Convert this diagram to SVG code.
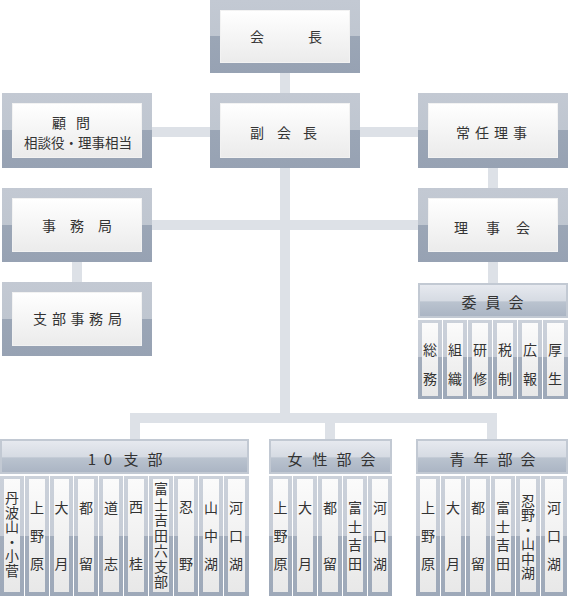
<svg xmlns="http://www.w3.org/2000/svg" width="568" height="596" viewBox="0 0 568 596">
<defs>
<linearGradient id="split" x1="0" y1="0" x2="0" y2="1">
<stop offset="0" stop-color="#c3c9d3"/><stop offset="0.5" stop-color="#bfc6d0"/><stop offset="0.5" stop-color="#9ba6b6"/><stop offset="1" stop-color="#97a2b3"/>
</linearGradient>
<linearGradient id="colsplit" x1="0" y1="0" x2="0" y2="1">
<stop offset="0" stop-color="#cbd1da"/><stop offset="0.5" stop-color="#c6ccd6"/><stop offset="0.5" stop-color="#a3adbc"/><stop offset="1" stop-color="#9ea9b9"/>
</linearGradient>
<linearGradient id="colsplit2" x1="0" y1="0" x2="0" y2="1">
<stop offset="0" stop-color="#cbd1da"/><stop offset="0.47" stop-color="#c6ccd6"/><stop offset="0.47" stop-color="#a3adbc"/><stop offset="1" stop-color="#9ea9b9"/>
</linearGradient>
<linearGradient id="panel" x1="0" y1="0" x2="0" y2="1">
<stop offset="0" stop-color="#ffffff"/><stop offset="1" stop-color="#ebebeb"/>
</linearGradient>
<linearGradient id="cpanel" x1="0" y1="0" x2="0" y2="1">
<stop offset="0" stop-color="#fbfbfb"/><stop offset="1" stop-color="#e8e8e8"/>
</linearGradient>
<linearGradient id="hdr" x1="0" y1="0" x2="0" y2="1">
<stop offset="0" stop-color="#e6e9ef"/><stop offset="0.5" stop-color="#d6dbe3"/><stop offset="0.55" stop-color="#bac3cf"/><stop offset="1" stop-color="#abb5c4"/>
</linearGradient>
</defs>
<style>
.box{fill:url(#split)}
.in{fill:url(#panel);stroke:#f2f2f2;stroke-width:1}
.col{fill:url(#colsplit)}
.col2{fill:url(#colsplit2)}
.cin{fill:url(#cpanel)}
.hb{fill:#c2c9d3}
.hi{fill:url(#hdr)}
.con{fill:#dde1e7}
text{font-family:"Noto Sans CJK JP","Noto Sans",sans-serif;fill:#333;text-anchor:middle;dominant-baseline:central}
.t{font-size:14px}
.h{font-size:15px}
.c{font-size:13.5px}
</style>

<g id="connectors">
<rect class="con" x="280" y="73" width="10" height="20"/>
<rect class="con" x="152" y="127" width="58" height="10"/>
<rect class="con" x="360" y="127" width="58" height="10"/>
<rect class="con" x="488" y="168" width="10" height="20"/>
<rect class="con" x="488" y="262" width="10" height="21"/>
<rect class="con" x="280" y="168" width="10" height="255"/>
<rect class="con" x="152" y="220" width="266" height="10"/>
<rect class="con" x="72" y="262" width="10" height="20"/>
<rect class="con" x="130" y="413" width="367" height="10"/>
<rect class="con" x="130" y="413" width="10" height="26"/>
<rect class="con" x="325" y="413" width="10" height="26"/>
<rect class="con" x="487" y="413" width="10" height="26"/>
</g>

<g id="kaicho">
<rect class="box" x="210" y="0" width="150" height="73"/>
<rect class="in" x="220.5" y="10.5" width="129" height="52"/>
<text class="t" x="257 315" y="36">会長</text>
</g>

<g id="fukukaicho">
<rect class="box" x="210" y="93" width="150" height="75"/>
<rect class="in" x="220.5" y="103.5" width="129" height="54"/>
<text class="t" x="257 284 310" y="132">副会長</text>
</g>

<g id="komon">
<rect class="box" x="2" y="93" width="150" height="75"/>
<rect class="in" x="12.5" y="103.5" width="129" height="54"/>
<text class="t" x="59 83" y="122">顧問</text>
<text class="c" x="78" y="142">相談役・理事相当</text>
</g>

<g id="jonin">
<rect class="box" x="418" y="93" width="150" height="75"/>
<rect class="in" x="428.5" y="103.5" width="129" height="54"/>
<text class="t" x="463 482 501 520" y="132">常任理事</text>
</g>

<g id="jimukyoku">
<rect class="box" x="2" y="188" width="150" height="74"/>
<rect class="in" x="12.5" y="198.5" width="129" height="53"/>
<text class="t" x="49 77 105" y="225">事務局</text>
</g>

<g id="rijikai">
<rect class="box" x="418" y="188" width="150" height="74"/>
<rect class="in" x="428.5" y="198.5" width="129" height="53"/>
<text class="t" x="461 493 523" y="227">理事会</text>
</g>

<g id="shibujimukyoku">
<rect class="box" x="2" y="282" width="150" height="74"/>
<rect class="in" x="12.5" y="292.5" width="129" height="53"/>
<text class="t" x="40 59 77.5 96 115" y="318">支部事務局</text>
</g>

<g id="iinkai">
<rect class="hb" x="418" y="283" width="150" height="35"/>
<rect class="hi" x="420" y="285" width="146" height="31"/>
<text class="h" x="469 493 516" y="301">委員会</text>
<rect class="col2" x="418" y="320" width="24" height="79"/><rect class="cin" x="422" y="323" width="16" height="73"/>
<rect class="col2" x="443" y="320" width="24" height="79"/><rect class="cin" x="447" y="323" width="16" height="73"/>
<rect class="col2" x="468" y="320" width="24" height="79"/><rect class="cin" x="472" y="323" width="16" height="73"/>
<rect class="col2" x="493" y="320" width="24" height="79"/><rect class="cin" x="497" y="323" width="16" height="73"/>
<rect class="col2" x="518" y="320" width="24" height="79"/><rect class="cin" x="522" y="323" width="16" height="73"/>
<rect class="col2" x="543" y="320" width="25" height="79"/><rect class="cin" x="547" y="323" width="17" height="73"/>
<text class="t" x="430 430" y="349 378">総務</text>
<text class="t" x="455 455" y="349 378">組織</text>
<text class="t" x="480 480" y="349 378">研修</text>
<text class="t" x="505 505" y="349 378">税制</text>
<text class="t" x="530 530" y="349 378">広報</text>
<text class="t" x="555 555" y="349 378">厚生</text>
</g>

<g id="shibu10">
<rect class="hb" x="0" y="439" width="249" height="35"/>
<rect class="hi" x="2" y="441" width="245" height="31"/>
<text class="h" x="92 108 131 155" y="458">10支部</text>
<rect class="col" x="0" y="476" width="24" height="120"/><rect class="cin" x="4" y="479" width="16" height="113"/>
<rect class="col" x="25" y="476" width="24" height="120"/><rect class="cin" x="29" y="479" width="16" height="113"/>
<rect class="col" x="50" y="476" width="23" height="120"/><rect class="cin" x="54" y="479" width="15" height="113"/>
<rect class="col" x="74" y="476" width="24" height="120"/><rect class="cin" x="78" y="479" width="16" height="113"/>
<rect class="col" x="99" y="476" width="24" height="120"/><rect class="cin" x="103" y="479" width="16" height="113"/>
<rect class="col" x="124" y="476" width="24" height="120"/><rect class="cin" x="128" y="479" width="16" height="113"/>
<rect class="col" x="149" y="476" width="24" height="120"/><rect class="cin" x="153" y="479" width="16" height="113"/>
<rect class="col" x="174" y="476" width="24" height="120"/><rect class="cin" x="178" y="479" width="16" height="113"/>
<rect class="col" x="199" y="476" width="24" height="120"/><rect class="cin" x="203" y="479" width="16" height="113"/>
<rect class="col" x="224" y="476" width="25" height="120"/><rect class="cin" x="228" y="479" width="17" height="113"/>
<text class="t" x="12 12 12 12 12 12" y="497 511.6 526.2 540.8 555.4 570">丹波山・小菅</text>
<text class="t" x="37 37 37" y="507 535 563">上野原</text>
<text class="t" x="61.5 61.5" y="507 563">大月</text>
<text class="t" x="86 86" y="507 563">都留</text>
<text class="t" x="111 111" y="507 563">道志</text>
<text class="t" x="136 136" y="506 563">西桂</text>
<text class="t" x="161 161 161 161 161 161 161" y="488 503.5 519 534.5 550 565.5 581">富士吉田六支部</text>
<text class="t" x="186 186" y="506 563">忍野</text>
<text class="t" x="211 211 211" y="507 535 563">山中湖</text>
<text class="t" x="236 236 236" y="507 535 563">河口湖</text>
</g>

<g id="joseibukai">
<rect class="hb" x="269" y="439" width="123" height="35"/>
<rect class="hi" x="271" y="441" width="119" height="31"/>
<text class="h" x="295 320 344 368" y="458">女性部会</text>
<rect class="col" x="269" y="476" width="23" height="120"/><rect class="cin" x="273" y="479" width="15" height="113"/>
<rect class="col" x="293" y="476" width="24" height="120"/><rect class="cin" x="297" y="479" width="16" height="113"/>
<rect class="col" x="318" y="476" width="24" height="120"/><rect class="cin" x="322" y="479" width="16" height="113"/>
<rect class="col" x="343" y="476" width="24" height="120"/><rect class="cin" x="347" y="479" width="16" height="113"/>
<rect class="col" x="368" y="476" width="24" height="120"/><rect class="cin" x="372" y="479" width="16" height="113"/>
<text class="t" x="280.5 280.5 280.5" y="507 535 563">上野原</text>
<text class="t" x="305 305" y="507 563">大月</text>
<text class="t" x="330 330" y="507 563">都留</text>
<text class="t" x="355 355 355 355" y="507 525.7 544.3 563">富士吉田</text>
<text class="t" x="380 380 380" y="507 535 563">河口湖</text>
</g>

<g id="seinenbukai">
<rect class="hb" x="416" y="439" width="152" height="35"/>
<rect class="hi" x="418" y="441" width="148" height="31"/>
<text class="h" x="457 481 505 528" y="458">青年部会</text>
<rect class="col" x="416" y="476" width="24" height="120"/><rect class="cin" x="420" y="479" width="16" height="113"/>
<rect class="col" x="441" y="476" width="24" height="120"/><rect class="cin" x="445" y="479" width="16" height="113"/>
<rect class="col" x="466" y="476" width="24" height="120"/><rect class="cin" x="470" y="479" width="16" height="113"/>
<rect class="col" x="491" y="476" width="24" height="120"/><rect class="cin" x="495" y="479" width="16" height="113"/>
<rect class="col" x="516" y="476" width="24" height="120"/><rect class="cin" x="520" y="479" width="16" height="113"/>
<rect class="col" x="541" y="476" width="26" height="120"/><rect class="cin" x="545" y="479" width="18" height="113"/>
<text class="t" x="428 428 428" y="507 535 563">上野原</text>
<text class="t" x="453 453" y="507 563">大月</text>
<text class="t" x="478 478" y="507 563">都留</text>
<text class="t" x="503 503 503 503" y="507 525.7 544.3 563">富士吉田</text>
<text class="t" x="528 528 528 528 528 528" y="500 514.4 528.8 543.2 557.6 572">忍野・山中湖</text>
<text class="t" x="554 554 554" y="507 535 563">河口湖</text>
</g>
</svg>
